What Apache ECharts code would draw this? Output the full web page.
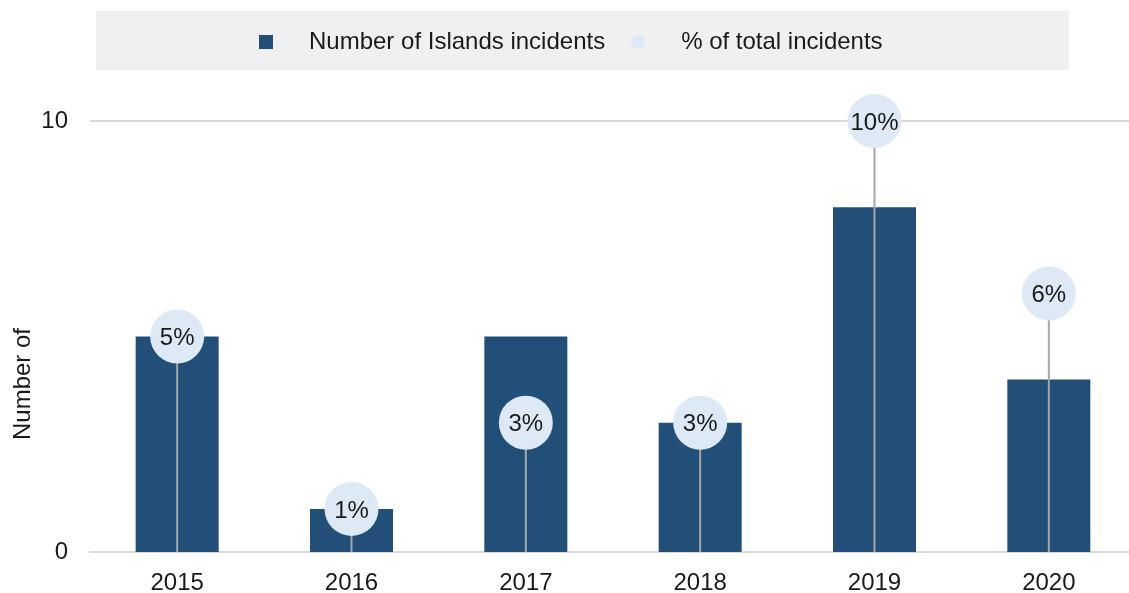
<!DOCTYPE html>
<html>
<head>
<meta charset="utf-8">
<title>Islands incidents</title>
<script src="https://cdn.jsdelivr.net/npm/echarts@6/dist/echarts.min.js"></script>
<style>
  html, body { margin: 0; padding: 0; background: #ffffff; }
  #chart { width: 1129px; height: 593px; }
</style>
</head>
<body>
<div id="chart"></div>
<script>
// Yearly data
const years = ['2015', '2016', '2017', '2018', '2019', '2020'];
const incidents = [5, 1, 5, 3, 8, 4];          // Number of Islands incidents
const pctOfTotal = [5, 1, 3, 3, 10, 6];        // % of total incidents
const yTicks = [0, 10];

const FONT = '"Liberation Sans", Arial, Helvetica, sans-serif';
const TEXT = '#1a1a1a';
const BAR = '#224f78';
const DOT = '#dde9f5';
const STEM = '#a6a6a6';
const FS = 24;

const chart = echarts.init(document.getElementById('chart'));

chart.setOption({
  animation: false,
  textStyle: { fontFamily: FONT },
  graphic: [
    {
      type: 'rect',
      left: 96, top: 11,
      shape: { width: 973, height: 59 },
      style: { fill: '#f0f0f0' },
      z: -10
    },
    {
      type: 'text',
      left: 11, top: 328,
      rotation: Math.PI / 2,
      style: { text: 'Number of', fill: TEXT, font: FS + 'px ' + FONT }
    }
  ],
  legend: {
    left: 254, top: 25,
    itemWidth: 14, itemHeight: 14,
    itemGap: 26,
    textStyle: { fontSize: FS, color: TEXT, padding: [0, 0, 0, 31] },
    data: [
      { name: 'Number of Islands incidents', icon: 'rect' },
      { name: '% of total incidents', icon: 'circle', itemStyle: { color: DOT } }
    ]
  },
  // the last band runs slightly past the right edge of the canvas
  grid: { left: 90, width: 1046, top: 121, bottom: 41, outerBoundsMode: 'none' },
  xAxis: {
    type: 'category',
    data: years,
    axisTick: { show: false },
    axisLine: { show: true, lineStyle: { color: '#d9d9d9', width: 2 } },
    axisLabel: { fontSize: FS, color: TEXT, margin: 19 }
  },
  yAxis: {
    type: 'value',
    min: yTicks[0], max: yTicks[yTicks.length - 1], interval: 10,
    axisLine: { show: false },
    axisTick: { show: false },
    axisLabel: { fontSize: FS, color: TEXT, margin: 22, padding: [3, 0, 0, 0] },
    splitLine: { lineStyle: { color: '#d9d9d9', width: 2 } }
  },
  series: [
    {
      name: 'Number of Islands incidents',
      type: 'bar',
      data: incidents,
      barWidth: 83,
      itemStyle: { color: BAR },
      z: 2
    },
    {
      name: '% of total incidents',
      type: 'scatter',
      data: pctOfTotal,
      symbol: 'circle',
      symbolSize: 54,
      clip: false,
      itemStyle: { color: DOT, opacity: 1 },
      label: {
        show: true,
        position: 'inside',
        offset: [0, 2],
        formatter: p => p.value + '%',
        fontSize: FS,
        color: TEXT
      },
      z: 4
    },
    {
      // stems of the lollipops, from zero up to each percentage
      type: 'custom',
      data: pctOfTotal.map((v, i) => [i, v]),
      clip: false,
      z: 3,
      silent: true,
      encode: { x: 0, y: 1 },
      renderItem: function (params, api) {
        const top = api.coord([api.value(0), api.value(1)]);
        const base = api.coord([api.value(0), 0]);
        return {
          type: 'line',
          shape: { x1: top[0], y1: top[1], x2: base[0], y2: base[1] },
          style: { stroke: STEM, lineWidth: 2 }
        };
      }
    }
  ]
});
</script>
</body>
</html>
